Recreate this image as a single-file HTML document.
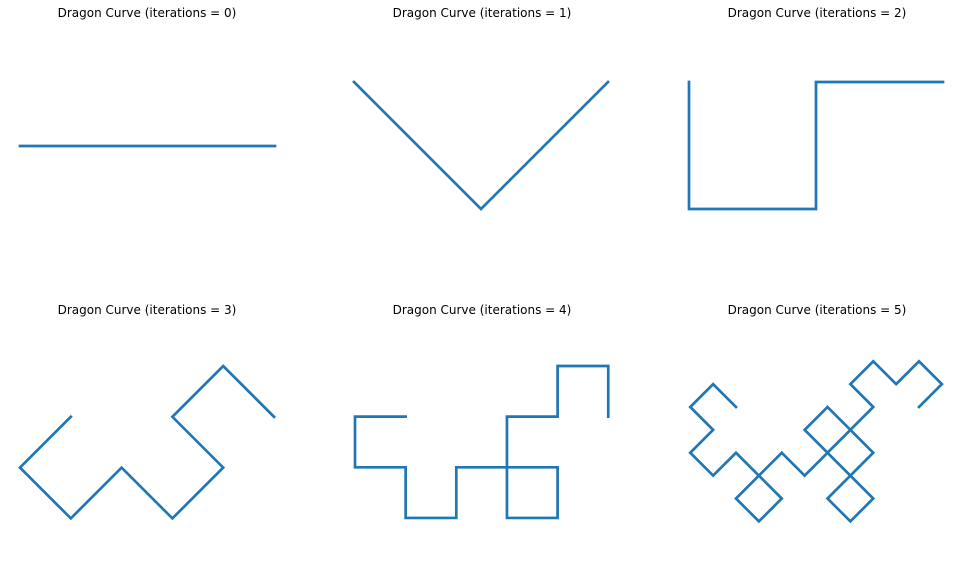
<!DOCTYPE html>
<html><head><meta charset="utf-8"><style>
body{margin:0;background:#fff;}
svg{display:block;}
text{font-family:"DejaVu Sans","Liberation Sans",sans-serif;font-size:12px;fill:#000;}
</style></head><body>
<svg id="chart" width="963" height="573" viewBox="0 0 963 573"></svg>
<script>
const titles = ["Dragon Curve (iterations = 0)","Dragon Curve (iterations = 1)","Dragon Curve (iterations = 2)","Dragon Curve (iterations = 3)","Dragon Curve (iterations = 4)","Dragon Curve (iterations = 5)"];
const iter0 = [[0,0],[1,0]];
const iter1 = [[0,0],[1,1],[2,0]];
const iter2 = [[0,0],[0,1],[1,1],[1,0],[2,0]];
const iter3 = [[1,1],[0,2],[1,3],[2,2],[3,3],[4,2],[3,1],[4,0],[5,1]];
const iter4 = [[1,1],[0,1],[0,2],[1,2],[1,3],[2,3],[2,2],[3,2],[3,3],[4,3],[4,2],[3,2],[3,1],[4,1],[4,0],[5,0],[5,1]];
const iter5 = [[1,1],[0.5,0.5],[0,1],[0.5,1.5],[0,2],[0.5,2.5],[1,2],[1.5,2.5],[1,3],[1.5,3.5],[2,3],[1.5,2.5],[2,2],[2.5,2.5],[3,2],[3.5,2.5],[3,3],[3.5,3.5],[4,3],[3.5,2.5],[4,2],[3.5,1.5],[3,2],[2.5,1.5],[3,1],[3.5,1.5],[4,1],[3.5,0.5],[4,0],[4.5,0.5],[5,0],[5.5,0.5],[5,1]];
const series = [iter0,iter1,iter2,iter3,iter4,iter5];
const panels = [
  {ox:20,oy:146,u:255,tx:147,ty:17},
  {ox:354,oy:82,u:127,tx:482,ty:17},
  {ox:689,oy:82,u:127,tx:817,ty:17},
  {ox:20,oy:366,u:50.8,tx:147,ty:314},
  {ox:355,oy:366,u:50.65,tx:482,ty:314},
  {ox:690.25,oy:361.25,u:45.75,tx:817,ty:314}
];
const svg = document.getElementById('chart');
const NS = 'http://www.w3.org/2000/svg';
series.forEach((pts,i)=>{
  const p = panels[i];
  const g = document.createElementNS(NS,'g');
  
  
  const t = document.createElementNS(NS,'text');
  
  
  t.setAttribute('x',p.tx); t.setAttribute('y',p.ty); t.setAttribute('text-anchor','middle');
  t.textContent = titles[i];
  g.appendChild(t);
  const sx = v=>p.ox+v*p.u, sy = v=>p.oy+v*p.u;
  const line = document.createElementNS(NS,'polyline');
  
  
  line.setAttribute('points',pts.map(q=>sx(q[0])+','+sy(q[1])).join(' '));
  line.setAttribute('fill','none'); line.setAttribute('stroke','#1f77b4');
  line.setAttribute('stroke-width','2.7'); line.setAttribute('stroke-linecap','square');
  g.appendChild(line);
  svg.appendChild(g);
});
</script>
</body></html>
